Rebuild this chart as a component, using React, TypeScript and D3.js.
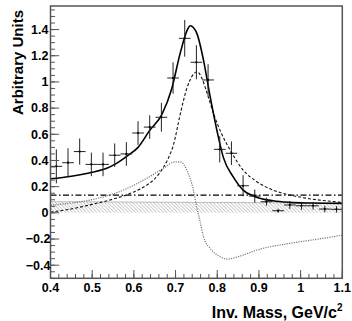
import React from "react";
import * as d3 from "d3";

// ---- data points (bin centres, values, vertical errors) ----
const binCenters = [0.414, 0.442, 0.470, 0.498, 0.526, 0.554, 0.582, 0.610, 0.638, 0.666, 0.694, 0.722, 0.750, 0.778, 0.806, 0.834, 0.862, 0.890, 0.918, 0.946, 0.974, 1.002, 1.030, 1.058, 1.086];
const pointValues = [0.355, 0.383, 0.468, 0.37, 0.37, 0.44, 0.45, 0.61, 0.655, 0.73, 1.03, 1.333, 1.15, 1.015, 0.485, 0.455, 0.207, 0.128, 0.085, 0.016, 0.06, 0.054, 0.054, 0.029, 0.027];
const pointErrors = [0.13, 0.11, 0.1, 0.09, 0.09, 0.09, 0.09, 0.09, 0.09, 0.11, 0.12, 0.14, 0.13, 0.12, 0.1, 0.09, 0.08, 0.05, 0.03, 0.015, 0.03, 0.03, 0.03, 0.025, 0.025];
const binHalfWidth = 0.014;

// ---- total fit (solid) ----
const totalX = [0.4, 0.45, 0.5, 0.535, 0.554, 0.582, 0.61, 0.638, 0.667, 0.691, 0.711, 0.728, 0.735, 0.751, 0.767, 0.783, 0.799, 0.815, 0.838, 0.862, 0.891, 0.934, 0.974, 1.02, 1.1];
const totalY = [0.26, 0.28, 0.31, 0.34, 0.37, 0.43, 0.5, 0.63, 0.75, 0.95, 1.218, 1.396, 1.429, 1.371, 1.167, 0.887, 0.633, 0.42, 0.276, 0.174, 0.123, 0.092, 0.08, 0.075, 0.072];

// ---- resonance (dashed) ----
const resX = [0.4, 0.45, 0.5, 0.55, 0.6, 0.63, 0.65, 0.663, 0.68, 0.695, 0.711, 0.727, 0.743, 0.752, 0.763, 0.775, 0.791, 0.811, 0.831, 0.862, 0.895, 0.934, 0.974, 1.015, 1.1];
const resY = [0.005, 0.03, 0.065, 0.105, 0.16, 0.21, 0.26, 0.31, 0.4, 0.52, 0.75, 0.95, 1.06, 1.078, 1.03, 0.92, 0.76, 0.6, 0.48, 0.327, 0.238, 0.174, 0.136, 0.111, 0.08];

// ---- interference (dotted) ----
const intX = [0.4, 0.45, 0.495, 0.575, 0.631, 0.671, 0.699, 0.711, 0.727, 0.743, 0.751, 0.759, 0.767, 0.783, 0.807, 0.823, 0.855, 0.895, 0.974, 1.054, 1.1];
const intY = [0.058, 0.075, 0.098, 0.174, 0.264, 0.34, 0.39, 0.39, 0.327, 0.17, 0.04, -0.07, -0.183, -0.271, -0.335, -0.353, -0.33, -0.284, -0.233, -0.195, -0.17];

// ---- constant background (dash-dot) and hatched band ----
const bgX = [0.4, 1.1];
const bgY = [0.136, 0.136];
const bandX = [0.4, 1.1];
const bandLow = [0.0, 0.0];
const bandHigh = [0.085, 0.075];

// ---- axes ----
const xTicks = [0.4, 0.5, 0.6, 0.7, 0.8, 0.9, 1.0, 1.1];
const xTickLabels = ["0.4", "0.5", "0.6", "0.7", "0.8", "0.9", "1", "1.1"];
const yTicks = [-0.4, -0.2, 0, 0.2, 0.4, 0.6, 0.8, 1.0, 1.2, 1.4];
const yTickLabels = ["\u22120.4", "\u22120.2", "0", "0.2", "0.4", "0.6", "0.8", "1", "1.2", "1.4"];
const xDomain = [0.4, 1.1];
const yDomain = [-0.5, 1.58];

const W = 352;
const H = 321;
const L = 50.5, R = 342.3, T = 6, B = 278.3;
const FONT = "'Liberation Sans', Arial, Helvetica, sans-serif";

export default function App() {
  const x = d3.scaleLinear().domain(xDomain).range([L, R]);
  const y = d3.scaleLinear().domain(yDomain).range([B, T]);

  const line = (xs: number[], ys: number[]) =>
    d3.line<number>().x((_, i) => x(xs[i])).y((_, i) => y(ys[i])).curve(d3.curveMonotoneX)(xs) || "";

  const bandPath =
    d3.area<number>()
      .x((_, i) => x(bandX[i]))
      .y0((_, i) => y(bandLow[i]))
      .y1((_, i) => y(bandHigh[i]))(bandX) || "";
  const bandTop = d3.line<number>().x((_, i) => x(bandX[i])).y((_, i) => y(bandHigh[i]))(bandX) || "";

  const xMinor = d3.range(0, 36).map((i) => 0.4 + i * 0.02).filter((v) => v <= 1.1001);
  const yMinor = d3.range(0, 42).map((i) => -0.5 + i * 0.05).filter((v) => v <= 1.58);

  const axisColor = "#555";

  return (
    <svg width={W} height={H} style={{ position: "absolute", left: 0, top: 0, background: "#fff" }} fontFamily={FONT}>
      <defs>
        <pattern id="hatch" patternUnits="userSpaceOnUse" width="3.5" height="3.5">
          <path d="M-1,-1 L4.5,4.5 M-1,2.5 L1,4.5 M2.5,-1 L4.5,1" stroke="#aaa" strokeWidth="0.8" />
        </pattern>
        <clipPath id="frame">
          <rect x={L} y={T} width={R - L} height={B - T} />
        </clipPath>
      </defs>
      <rect x={0} y={0} width={W} height={H} fill="#fff" />

      <g clipPath="url(#frame)">
        <path d={bandPath} fill="url(#hatch)" stroke="none" />
        <path d={bandTop} fill="none" stroke="#bbb" strokeWidth={1} />
        <path d={line(bgX, bgY)} fill="none" stroke="#000" strokeWidth={1.3} strokeDasharray="6,2.5,1.5,2.5" />
        <path d={line(intX, intY)} fill="none" stroke="#777" strokeWidth={1.2} strokeDasharray="1.2,1.2" />
        <path d={line(resX, resY)} fill="none" stroke="#111" strokeWidth={1.1} strokeDasharray="3,2" />
        <path d={line(totalX, totalY)} fill="none" stroke="#000" strokeWidth={1.6} />
        {binCenters.map((c, i) => (
          <g key={i} stroke="#222" strokeWidth={1}>
            <line x1={x(c - binHalfWidth)} x2={x(c + binHalfWidth)} y1={y(pointValues[i])} y2={y(pointValues[i])} />
            <line x1={x(c)} x2={x(c)} y1={y(pointValues[i] - pointErrors[i])} y2={y(pointValues[i] + pointErrors[i])} />
            <circle cx={x(c)} cy={y(pointValues[i])} r={1.1} fill="#000" stroke="none" />
          </g>
        ))}
      </g>

      {/* frame */}
      <rect x={L} y={T} width={R - L} height={B - T} fill="none" stroke={axisColor} strokeWidth={1.5} />

      {/* x ticks */}
      {xMinor.map((v, i) => (
        <line key={"xm" + i} x1={x(v)} x2={x(v)} y1={B} y2={B - 4.3} stroke={axisColor} strokeWidth={1} />
      ))}
      {xTicks.map((v, i) => (
        <line key={"xM" + i} x1={x(v)} x2={x(v)} y1={B} y2={B - 8.3} stroke={axisColor} strokeWidth={1} />
      ))}
      {xTicks.map((v, i) => (
        <text key={"xl" + i} x={x(v)} y={291.5} textAnchor="middle" fontSize={12.5} fontWeight="bold" fill="#000">
          {xTickLabels[i]}
        </text>
      ))}

      {/* y ticks */}
      {yMinor.map((v, i) => (
        <line key={"ym" + i} x1={L} x2={L + 4.5} y1={y(v)} y2={y(v)} stroke={axisColor} strokeWidth={1} />
      ))}
      {yTicks.map((v, i) => (
        <line key={"yM" + i} x1={L} x2={L + 8.7} y1={y(v)} y2={y(v)} stroke={axisColor} strokeWidth={1} />
      ))}
      {yTicks.map((v, i) => (
        <text key={"yl" + i} x={v < 0 ? 50.5 : 48.5} y={y(v)} dy="0.35em" textAnchor="end" fontSize={12.5} fontWeight="bold" fill="#000">
          {yTickLabels[i]}
        </text>
      ))}

      {/* titles */}
      <text transform="translate(22.5,10) rotate(-90)" textAnchor="end" fontSize={15} fontWeight="bold" fill="#000">
        Arbitrary Units
      </text>
      <text x={342.5} y={318} textAnchor="end" fontSize={16} fontWeight="bold" fill="#000">
        Inv. Mass, GeV/c<tspan fontSize={10} dy={-7}>2</tspan>
      </text>
    </svg>
  );
}
